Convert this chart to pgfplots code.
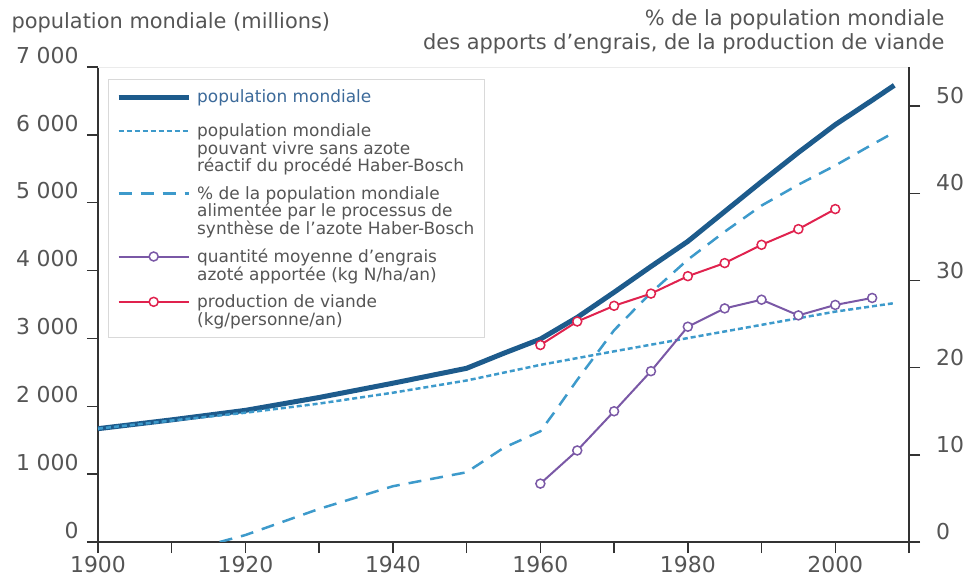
\documentclass[border=0pt]{standalone}
\usepackage{pgfplots}
\pgfplotsset{compat=1.18}
\usepackage{fontspec}
\setmainfont{DejaVu Sans}
\definecolor{popblue}{HTML}{1D5B8C}
\definecolor{legblue}{HTML}{3C6A9A}
\definecolor{lightblue}{HTML}{3D9ACB}
\definecolor{purp}{HTML}{7A58A6}
\definecolor{meat}{HTML}{E0224E}
\definecolor{txt}{HTML}{555555}
\definecolor{axc}{HTML}{333333}
\newcommand\ts{\hspace{0.3em}}
\pgfplotsset{
  popstyle/.style={popblue, line width=5bp, solid},
  nohbstyle/.style={lightblue, line width=2.5bp, dash pattern=on 5bp off 3bp},
  pctstyle/.style={lightblue, line width=2.5bp, dash pattern=on 13bp off 9bp},
  fertstyle/.style={purp, line width=2bp, solid, mark=*, mark size=4.5bp, mark options={fill=white, solid, line width=1.5bp}},
  meatstyle/.style={meat, line width=2bp, solid, mark=*, mark size=4.5bp, mark options={fill=white, solid, line width=1.5bp}},
  firstleg/.style={legend image code/.code={\draw[##1] (0bp,0bp) -- (70bp,0bp); \path (0bp,-13bp);}},
  thirdleg/.style={legend image code/.code={\draw[##1] (0bp,0bp) -- (70bp,0bp); \path (0bp,-38bp);}},
  common/.style={
    scale only axis, width=811bp, height=475bp,
    xmin=1900, xmax=2010,
    axis line style={axc, line width=1.5bp, -},
    tick style={axc, line width=1.5bp},
    tick align=outside, major tick length=11bp,
    ticklabel style={txt, font=\fontsize{22}{24}\selectfont},
  }
}
\begin{document}
\begin{tikzpicture}
\begin{axis}[common,
  axis x line*=bottom, axis y line*=left,
  ymin=0, ymax=7000,
  ytick={0,1000,2000,3000,4000,5000,6000,7000},
  yticklabels={0,1\ts000,2\ts000,3\ts000,4\ts000,5\ts000,6\ts000,7\ts000},
  yticklabel style={anchor=south east, xshift=-5bp},
  xtick={1900,1910,1920,1930,1940,1950,1960,1970,1980,1990,2000,2010},
  xticklabels={1900,,1920,,1940,,1960,,1980,,2000,},
  legend cell align=left,
  legend image code/.code={\draw[mark repeat=2,mark phase=2,#1] plot coordinates {(0bp,0bp) (35bp,0bp) (70bp,0bp)};},
  legend style={at={(rel axis cs:0.0123,0.975)}, anchor=north west,
    draw=black!15, fill=white, text=txt,
    font=\fontsize{17}{17.7}\selectfont,
    cells={align=left}, nodes={inner sep=2bp},
    row sep=9bp, column sep=4bp, inner xsep=8bp, inner ysep=9bp},
]
\draw[black!8, line width=1bp] (rel axis cs:0,1) -- (rel axis cs:1,1);
\addplot[popstyle, firstleg] coordinates {
(1900,1670) (1910,1800) (1920,1940) (1930,2130) (1940,2340) (1950,2560)
(1955,2780) (1960,2990) (1965,3310) (1970,3680) (1975,4060) (1980,4430)
(1985,4870) (1990,5310) (1995,5740) (2000,6150) (2005,6510) (2008,6730)};
\addlegendentry{\textcolor{legblue}{population mondiale}}
\addplot[nohbstyle, forget plot] coordinates {
(1900,1670) (1910,1790) (1920,1905) (1930,2040) (1940,2200) (1950,2380)
(1960,2610) (1970,2810) (1980,3005) (1990,3200) (2000,3395) (2008,3520)};
\addlegendimage{nohbstyle, yshift=17.7bp}
\addlegendentry{population mondiale\\pouvant vivre sans azote\\réactif du procédé Haber-Bosch}
\addlegendimage{pctstyle, yshift=17.7bp, thirdleg}
\addlegendentry{\% de la population mondiale\\alimentée par le processus de\\synthèse de l'azote Haber-Bosch}
\addlegendimage{fertstyle, yshift=8.85bp}
\addlegendentry{quantité moyenne d'engrais\\azoté apportée (kg N/ha/an)}
\addlegendimage{meatstyle, yshift=8.85bp}
\addlegendentry{production de viande\\(kg/personne/an)}
\end{axis}
\begin{axis}[common,
  axis x line=none, axis y line*=right,
  ymin=0, ymax=54.5,
  ytick={0,10,20,30,40,50},
  yticklabels={0,10,20,30,40,50},
  yticklabel style={anchor=south west, xshift=16bp, inner sep=0pt, yshift=2bp},
]
\addplot[pctstyle] coordinates {
(1916.5,0) (1920,0.8) (1930,3.8) (1940,6.4) (1950,8.0) (1955,10.8) (1960,12.7)
(1962,15.0) (1965,18.6) (1970,24.3) (1975,28.6) (1980,32.4) (1985,35.6)
(1990,38.6) (1995,41.0) (2000,43.2) (2005,45.6) (2008,47.0)};
\addplot[fertstyle] coordinates {
(1960,6.7) (1965,10.5) (1970,15.0) (1975,19.6) (1980,24.7) (1985,26.8)
(1990,27.8) (1995,26.0) (2000,27.2) (2005,28.0)};
\addplot[meatstyle] coordinates {
(1960,22.6) (1965,25.3) (1970,27.1) (1975,28.5) (1980,30.5) (1985,32.0)
(1990,34.1) (1995,35.9) (2000,38.2)};
\end{axis}
\node[anchor=base west, text=txt, font=\fontsize{21}{24}\selectfont] at (-90bp,513bp) {population mondiale (millions)};
\node[anchor=base east, text=txt, font=\fontsize{21}{24}\selectfont] at (850bp,516bp) {\% de la population mondiale};
\node[anchor=base east, text=txt, font=\fontsize{21}{24}\selectfont] at (850bp,492bp) {des apports d'engrais, de la production de viande};
\pgfresetboundingbox
\path[use as bounding box] (-98bp,-36bp) rectangle (867bp,542bp);
\end{tikzpicture}
\end{document}
